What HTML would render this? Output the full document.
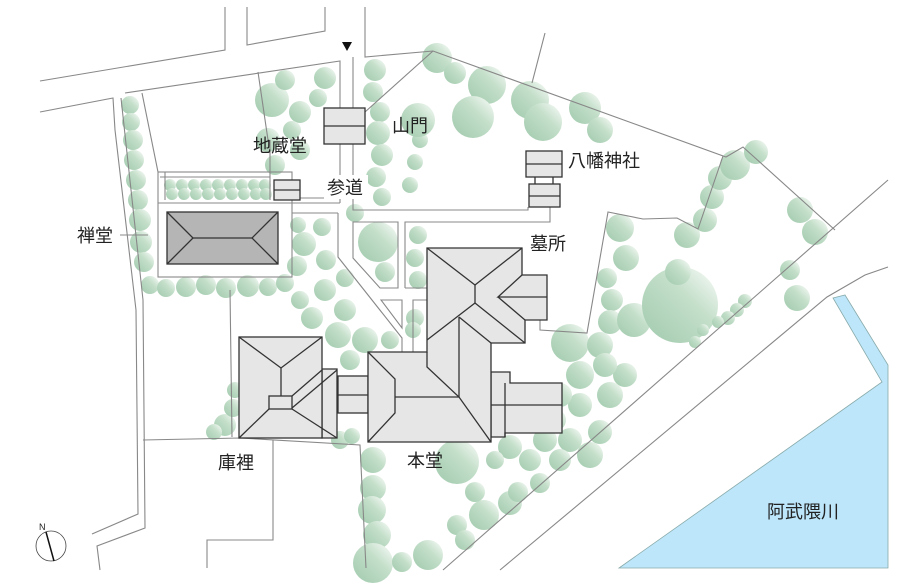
<!DOCTYPE html>
<html><head><meta charset="utf-8"><style>
html,body{margin:0;padding:0;background:#fff;}
svg{display:block;}
text{font-family:"Liberation Sans","Noto Sans CJK JP",sans-serif;fill:#222;}
</style></head><body>
<svg width="913" height="588" viewBox="0 0 913 588" xmlns="http://www.w3.org/2000/svg">
<defs>
<linearGradient id="tg" x1="0.15" y1="0.85" x2="0.9" y2="0.1">
<stop offset="0" stop-color="#a9cfb4"/><stop offset="0.6" stop-color="#c4dfca"/><stop offset="1" stop-color="#eef6ef"/>
</linearGradient>
</defs>
<rect width="913" height="588" fill="#fff"/>
<!-- river -->
<polygon points="833,298 845,295 888,365 888,568 619,568 882,382" fill="#bde6fa" stroke="#8aa" stroke-width="0.8"/>
<!-- trees -->
<g fill="url(#tg)">
<circle cx="130" cy="105" r="9"/><circle cx="131" cy="122" r="9"/><circle cx="133" cy="140" r="10"/><circle cx="134" cy="160" r="10"/><circle cx="136" cy="180" r="10"/><circle cx="138" cy="200" r="10"/><circle cx="140" cy="220" r="11"/><circle cx="141" cy="242" r="11"/><circle cx="144" cy="262" r="10"/><circle cx="150" cy="285" r="9"/>
<circle cx="166" cy="288" r="9"/><circle cx="186" cy="287" r="10"/><circle cx="206" cy="285" r="10"/><circle cx="226" cy="288" r="10"/><circle cx="248" cy="286" r="11"/><circle cx="268" cy="287" r="9"/><circle cx="285" cy="283" r="9"/>
<circle cx="170" cy="185" r="6"/><circle cx="182" cy="185" r="6"/><circle cx="194" cy="185" r="6"/><circle cx="206" cy="185" r="6"/><circle cx="218" cy="185" r="6"/><circle cx="230" cy="185" r="6"/><circle cx="242" cy="185" r="6"/><circle cx="254" cy="185" r="6"/><circle cx="265" cy="185" r="6"/>
<circle cx="172" cy="194" r="6"/><circle cx="184" cy="194" r="6"/><circle cx="196" cy="194" r="6"/><circle cx="208" cy="194" r="6"/><circle cx="220" cy="194" r="6"/><circle cx="232" cy="194" r="6"/><circle cx="244" cy="194" r="6"/><circle cx="256" cy="194" r="6"/><circle cx="266" cy="194" r="6"/>
<circle cx="272" cy="100" r="17"/><circle cx="300" cy="112" r="11"/><circle cx="285" cy="80" r="10"/><circle cx="268" cy="140" r="12"/><circle cx="292" cy="130" r="9"/><circle cx="275" cy="165" r="10"/><circle cx="300" cy="150" r="10"/><circle cx="325" cy="78" r="11"/><circle cx="318" cy="98" r="9"/>
<circle cx="375" cy="70" r="11"/><circle cx="373" cy="92" r="10"/><circle cx="380" cy="112" r="10"/><circle cx="378" cy="133" r="12"/><circle cx="382" cy="155" r="11"/><circle cx="376" cy="177" r="10"/><circle cx="382" cy="197" r="9"/>
<circle cx="410" cy="185" r="8"/><circle cx="415" cy="162" r="8"/><circle cx="420" cy="140" r="8"/><circle cx="418" cy="120" r="17"/>
<circle cx="437" cy="58" r="15"/><circle cx="455" cy="73" r="11"/><circle cx="487" cy="85" r="19"/><circle cx="473" cy="117" r="21"/><circle cx="530" cy="100" r="19"/><circle cx="543" cy="122" r="19"/><circle cx="585" cy="108" r="16"/><circle cx="600" cy="130" r="13"/>
<circle cx="298" cy="225" r="8"/><circle cx="322" cy="227" r="9"/><circle cx="304" cy="244" r="12"/><circle cx="326" cy="260" r="10"/><circle cx="297" cy="266" r="10"/><circle cx="325" cy="290" r="11"/><circle cx="300" cy="300" r="9"/><circle cx="312" cy="318" r="11"/><circle cx="345" cy="310" r="11"/><circle cx="338" cy="335" r="13"/><circle cx="365" cy="340" r="13"/><circle cx="350" cy="360" r="10"/><circle cx="390" cy="340" r="9"/><circle cx="345" cy="278" r="9"/><circle cx="355" cy="213" r="9"/>
<circle cx="378" cy="242" r="20"/><circle cx="385" cy="272" r="10"/><circle cx="418" cy="235" r="9"/><circle cx="415" cy="258" r="9"/><circle cx="418" cy="280" r="9"/><circle cx="415" cy="318" r="9"/><circle cx="413" cy="330" r="8"/>
<circle cx="570" cy="343" r="19"/><circle cx="600" cy="345" r="13"/><circle cx="580" cy="375" r="14"/><circle cx="625" cy="375" r="12"/><circle cx="610" cy="395" r="13"/><circle cx="580" cy="405" r="12"/><circle cx="560" cy="395" r="12"/><circle cx="600" cy="432" r="12"/><circle cx="570" cy="440" r="12"/><circle cx="545" cy="440" r="12"/><circle cx="590" cy="455" r="13"/><circle cx="555" cy="420" r="11"/><circle cx="560" cy="460" r="11"/>
<circle cx="620" cy="228" r="14"/><circle cx="626" cy="258" r="13"/><circle cx="607" cy="278" r="10"/><circle cx="612" cy="300" r="11"/><circle cx="610" cy="322" r="12"/><circle cx="634" cy="320" r="17"/><circle cx="605" cy="365" r="12"/><circle cx="680" cy="305" r="38"/><circle cx="678" cy="272" r="13"/><circle cx="687" cy="235" r="13"/><circle cx="705" cy="220" r="12"/><circle cx="712" cy="197" r="12"/><circle cx="720" cy="178" r="12"/><circle cx="735" cy="165" r="15"/><circle cx="756" cy="152" r="12"/><circle cx="800" cy="210" r="13"/><circle cx="815" cy="232" r="13"/><circle cx="797" cy="298" r="13"/><circle cx="790" cy="270" r="10"/><circle cx="745" cy="301" r="7"/><circle cx="737" cy="310" r="7"/><circle cx="728" cy="318" r="7"/><circle cx="718" cy="322" r="6"/><circle cx="703" cy="330" r="6"/><circle cx="695" cy="342" r="6"/>
<circle cx="373" cy="460" r="13"/><circle cx="373" cy="488" r="13"/><circle cx="372" cy="510" r="14"/><circle cx="377" cy="535" r="14"/><circle cx="373" cy="563" r="20"/><circle cx="402" cy="562" r="10"/><circle cx="428" cy="555" r="15"/><circle cx="457" cy="525" r="10"/><circle cx="465" cy="540" r="10"/><circle cx="484" cy="515" r="15"/><circle cx="510" cy="503" r="12"/><circle cx="475" cy="492" r="10"/><circle cx="518" cy="492" r="10"/><circle cx="540" cy="483" r="10"/><circle cx="457" cy="462" r="22"/><circle cx="510" cy="447" r="12"/><circle cx="530" cy="460" r="11"/><circle cx="495" cy="460" r="9"/>
<circle cx="225" cy="425" r="11"/><circle cx="233" cy="408" r="9"/><circle cx="235" cy="390" r="8"/><circle cx="214" cy="432" r="8"/><circle cx="340" cy="440" r="9"/><circle cx="352" cy="436" r="8"/>
</g>
<!-- lines -->
<g fill="none" stroke="#888" stroke-width="1.1">
<polyline points="40,81 225,50 225,7"/>
<polyline points="247,7 247,45 325,31 325,7"/>
<polyline points="365,7 365,57 433,51 726,157 743,147 835,230"/>
<line x1="433" y1="51" x2="365" y2="112"/>
<line x1="545" y1="33" x2="532" y2="83"/>
<polyline points="40,112 113,98 115,130 136,310 138,514 92,534"/>
<polyline points="125,93 340,61 340,108"/>
<line x1="340" y1="144" x2="340" y2="203"/>
<polyline points="121,98 143,300 145,528 97,546 100,570"/>
<polyline points="142,93 158,172"/>
<line x1="258" y1="72" x2="268" y2="140"/>
<polyline points="353,57 353,108"/><polyline points="353,144 353,210 528,210 528,207"/>
<rect x="158" y="172" width="134" height="105"/>
<line x1="158" y1="203" x2="340" y2="203"/>
<line x1="160" y1="177" x2="270" y2="177"/>
<line x1="165" y1="172" x2="165" y2="200"/>
<line x1="270" y1="140" x2="270" y2="200"/>
<line x1="300" y1="198" x2="326" y2="198"/>
<line x1="292" y1="213" x2="338" y2="213"/>
<polyline points="338,213 338,257 402,338 402,352"/>
<polygon points="353,222 353,258 380,288 398,288 398,222"/>
<polyline points="405,288 405,222 550,222 550,207"/>
<polyline points="405,288 427,288"/>
<polygon points="381,300 402,300 402,328"/>
<polyline points="427,300 413,300 413,352"/>
<polyline points="723,156 698,229 677,218 643,219 608,212 587,333 540,330 540,320"/>
<line x1="888" y1="180" x2="443" y2="570"/>
<polyline points="888,267 865,275 827,297 500,570"/>
<line x1="230" y1="290" x2="232" y2="437"/>
<polyline points="143,440 240,438 360,445 366,568"/>
<polyline points="273,440 273,540 207,540 207,568"/>
<line x1="120" y1="235" x2="148" y2="235"/>
</g>
<!-- buildings -->
<g stroke="#333" stroke-width="1.3" fill="#e6e6e6">
<rect x="324" y="108" width="41" height="36"/><line x1="324" y1="126" x2="365" y2="126"/>
<rect x="274" y="180" width="26" height="20"/><line x1="274" y1="190" x2="300" y2="190"/>
<rect x="526" y="151" width="36" height="26"/><line x1="526" y1="164" x2="562" y2="164"/>
<line x1="535" y1="177" x2="535" y2="184"/><line x1="553" y1="177" x2="553" y2="184"/>
<rect x="529" y="184" width="31" height="23"/><line x1="529" y1="196" x2="560" y2="196"/>
<rect x="167" y="212" width="111" height="52" fill="#b5b5b5"/>
<polyline points="167,212 193,238 167,264" fill="none"/><polyline points="278,212 252,238 278,264" fill="none"/><line x1="193" y1="238" x2="252" y2="238"/>
<!-- kuri -->
<rect x="338" y="376" width="30" height="37"/><line x1="338" y1="395" x2="368" y2="395"/>
<polygon points="322,369 337,369 337,438 322,438"/>
<rect x="239" y="337" width="83" height="101"/>
<polyline points="239,337 281,368 322,337" fill="none"/>
<line x1="281" y1="368" x2="281" y2="396"/>
<rect x="269" y="396" width="23" height="13"/>
<line x1="269" y1="409" x2="239" y2="438"/>
<line x1="292" y1="409" x2="337" y2="438"/>
<line x1="292" y1="396" x2="322" y2="370"/>
<line x1="292" y1="408" x2="337" y2="370"/>
<!-- hondo -->
<polygon points="491,372 510,372 510,383 562,383 562,433 505,433 505,437 491,437"/>
<line x1="491" y1="405" x2="562" y2="405"/><line x1="505" y1="383" x2="505" y2="437"/>
<polygon points="427,248 522,248 522,275 547,275 547,320 525,320 525,343 491,343 491,442 368,442 368,352 427,352"/>
<g fill="none">
<line x1="427" y1="248" x2="475" y2="285"/><line x1="522" y1="248" x2="475" y2="285"/>
<line x1="475" y1="285" x2="475" y2="303"/>
<line x1="475" y1="303" x2="427" y2="340"/>
<line x1="475" y1="303" x2="525" y2="343"/>
<polyline points="522,275 498,297 547,297"/><line x1="498" y1="297" x2="525" y2="320"/>
<polyline points="368,352 395,379 395,413 368,442"/>
<line x1="395" y1="397" x2="459" y2="397"/>
<line x1="459" y1="317" x2="459" y2="397"/>
<line x1="459" y1="317" x2="491" y2="343"/>
<polyline points="427,352 427,367 459,397 491,442"/>
</g>
</g>
<!-- marker -->
<polygon points="342,42 352,42 347,51" fill="#111"/>
<!-- compass -->
<circle cx="51" cy="546" r="15" fill="none" stroke="#444" stroke-width="0.8"/>
<line x1="46" y1="532" x2="54" y2="561" stroke="#111" stroke-width="1.5"/>
<text x="39" y="530" font-size="9">N</text>
<!-- labels -->
<rect x="324" y="175" width="44" height="24" fill="#fff"/>
<g font-size="18">
<text x="392" y="132">山門</text>
<text x="253" y="152">地蔵堂</text>
<text x="327" y="194">参道</text>
<text x="568" y="167">八幡神社</text>
<text x="530" y="250">墓所</text>
<text x="77" y="242">禅堂</text>
<text x="218" y="469">庫裡</text>
<text x="407" y="467">本堂</text>
<text x="767" y="518">阿武隈川</text>
</g>
</svg>
</body></html>
